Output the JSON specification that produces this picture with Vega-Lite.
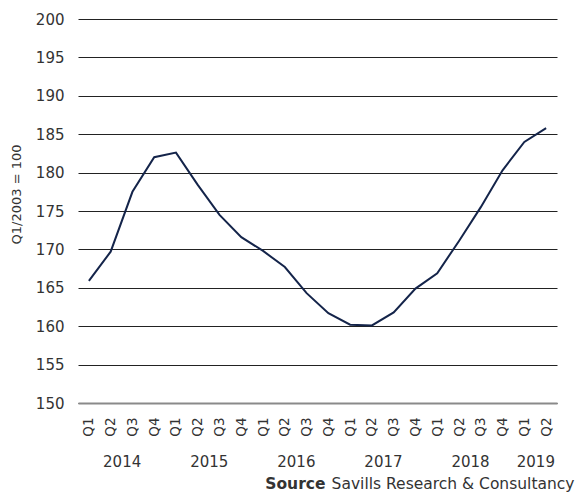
{
  "$schema": "https://vega.github.io/schema/vega-lite/v6.json",
  "width": 479,
  "height": 384,
  "autosize": {"type": "none"},
  "padding": {"left": 78, "top": 19, "right": 20, "bottom": 91},
  "background": "white",
  "config": {
    "view": {"stroke": null},
    "font": "DejaVu Sans",
    "axis": {"labelColor": "#333333", "titleColor": "#333333", "labelFont": "DejaVu Sans", "titleFont": "DejaVu Sans"},
    "axisY": {
      "values": [150, 155, 160, 165, 170, 175, 180, 185, 190, 195, 200],
      "labelOverlap": false,
      "domain": false, "ticks": false, "labelFontSize": 15, "labelPadding": 14,
      "gridColor": "#222222", "gridWidth": 1
    }
  },
  "data": {
    "values": [
      {"period": "2014 Q1", "value": 165.9},
      {"period": "2014 Q2", "value": 169.7},
      {"period": "2014 Q3", "value": 177.5},
      {"period": "2014 Q4", "value": 182.0},
      {"period": "2015 Q1", "value": 182.6},
      {"period": "2015 Q2", "value": 178.4},
      {"period": "2015 Q3", "value": 174.5},
      {"period": "2015 Q4", "value": 171.6},
      {"period": "2016 Q1", "value": 169.8},
      {"period": "2016 Q2", "value": 167.7},
      {"period": "2016 Q3", "value": 164.3},
      {"period": "2016 Q4", "value": 161.7},
      {"period": "2017 Q1", "value": 160.2},
      {"period": "2017 Q2", "value": 160.1},
      {"period": "2017 Q3", "value": 161.8},
      {"period": "2017 Q4", "value": 164.9},
      {"period": "2018 Q1", "value": 166.9},
      {"period": "2018 Q2", "value": 171.1},
      {"period": "2018 Q3", "value": 175.5},
      {"period": "2018 Q4", "value": 180.3},
      {"period": "2019 Q1", "value": 184.0},
      {"period": "2019 Q2", "value": 185.8}
    ]
  },
  "layer": [
    {
      "mark": {"type": "line", "color": "#14244a", "strokeWidth": 2},
      "encoding": {
        "x": {
          "field": "period", "type": "ordinal", "sort": null,
          "scale": {"type": "point", "padding": 0.5},
          "axis": {
            "labelExpr": "split(datum.value, ' ')[1]",
            "labelAngle": -90, "labelAlign": "right", "labelBaseline": "middle",
            "labelFontSize": 13.5, "labelPadding": 14, "ticks": false,
            "domain": true, "domainColor": "#8a8a8a", "domainWidth": 2,
            "grid": false,
            "title": "Source", "titleFontWeight": "bold", "titleFontSize": 15.5,
            "titleAlign": "right", "titleBaseline": "middle", "titleAnchor": null,
            "titleX": 247, "titleY": 80, "titleColor": "#333333"
          }
        },
        "y": {
          "field": "value", "type": "quantitative",
          "scale": {"domain": [150, 200], "nice": false, "zero": false},
          "axis": {
            "title": "Q1/2003 = 100", "titleFontSize": 13, "titleFontWeight": "normal", "titlePadding": 12,
            "titleY": 175
          }
        }
      }
    },
    {
      "mark": {"type": "line", "strokeOpacity": 0},
      "encoding": {
        "x": {
          "field": "period", "type": "ordinal", "sort": null,
          "axis": {
            "orient": "bottom", "offset": 51,
            "labelExpr": "(split(datum.value, ' ')[1] == 'Q2' && split(datum.value, ' ')[0] != '2019') || datum.value == '2019 Q1' ? split(datum.value, ' ')[0] : ''",
            "labelAngle": 0, "labelAlign": "center", "labelBaseline": "top",
            "labelOffset": 11, "labelFontSize": 15, "labelPadding": 0,
            "ticks": false, "domain": false, "grid": false,
            "title": "Savills Research & Consultancy", "titleFontWeight": "normal", "titleFontSize": 15.5,
            "titleAlign": "right", "titleBaseline": "middle", "titleAnchor": null,
            "titleX": 496, "titleY": 29
          }
        },
        "y": {"field": "value", "type": "quantitative"}
      }
    }
  ],
  "resolve": {"axis": {"x": "independent"}}
}
